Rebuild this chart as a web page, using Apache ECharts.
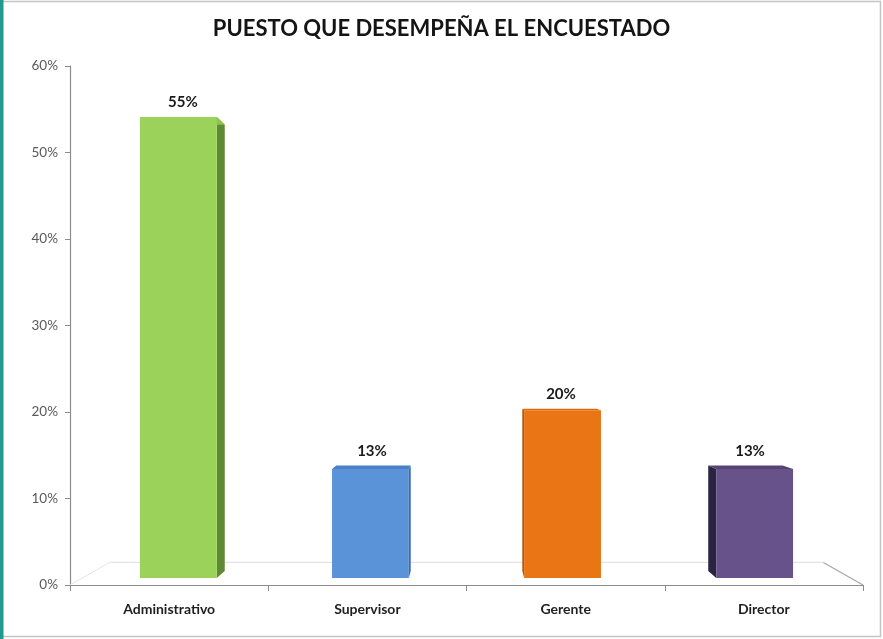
<!DOCTYPE html>
<html>
<head>
<meta charset="utf-8">
<script src="https://cdn.jsdelivr.net/npm/echarts@6/dist/echarts.min.js"></script>
<style>
  html, body { margin: 0; padding: 0; background: #fff; }
  #chart { width: 883px; height: 639px; }
</style>
</head>
<body>
<div id="chart"></div>
<script>
// Survey: position held by respondents (percent)
const categories = ['Administrativo', 'Supervisor', 'Gerente', 'Director'];
const values = [55, 13, 20, 13];
const yTicks = { min: 0, max: 60, step: 10 };

// Face colours per column: front, side, top
const frontColors = ['#9bd35a', '#5b93d9', '#ea7514', '#67528a'];
const sideColors  = ['#5f8a33', '#3b6bab', '#b8570a', '#2b2340'];
const topColors   = ['#8cc44d', '#4b80c6', '#d9680f', '#564477'];

// Simple perspective used for the 3-D look: points are pulled toward a
// vanishing point inside the plot area.
const FRONT = 0.969;      // scale of the front faces
const BACK = 0.938;       // scale of the back faces
const FLOOR_BACK = 0.9;   // scale of the far edge of the floor

function vanish(cs) {
  return [cs.x + cs.width * 0.5, cs.y + cs.height * 0.565];
}
function project(p, v, s) {
  return [v[0] + (p[0] - v[0]) * s, v[1] + (p[1] - v[1]) * s];
}

const chart = echarts.init(document.getElementById('chart'), null, { renderer: 'canvas' });

function renderFloor(params, api) {
  const cs = params.coordSys;
  const v = vanish(cs);
  const fl = [cs.x, cs.y + cs.height];
  const fr = [cs.x + cs.width, cs.y + cs.height];
  const bl = project(fl, v, FLOOR_BACK);
  const br = project(fr, v, FLOOR_BACK);
  return {
    type: 'group',
    silent: true,
    children: [
      { type: 'polygon', shape: { points: [fl, fr, br, bl] }, style: { fill: '#ffffff' } },
      { type: 'line', shape: { x1: bl[0], y1: bl[1], x2: br[0], y2: br[1] }, style: { stroke: '#e3e3e3', lineWidth: 1.2 } },
      { type: 'line', shape: { x1: bl[0], y1: bl[1], x2: fl[0], y2: fl[1] }, style: { stroke: '#e6e6e6', lineWidth: 1 } },
      { type: 'line', shape: { x1: br[0], y1: br[1], x2: fr[0], y2: fr[1] }, style: { stroke: '#a6a6a6', lineWidth: 1.2 } }
    ]
  };
}

function renderColumn(params, api) {
  const cs = params.coordSys;
  const v = vanish(cs);
  const idx = api.value(0);
  const val = api.value(1);
  const top = api.coord([idx, val]);
  const base = api.coord([idx, 0]);
  const half = api.size([1, 0])[0] * 0.4 / 2;

  const corners = {
    tl: [top[0] - half, top[1]], tr: [top[0] + half, top[1]],
    bl: [base[0] - half, base[1]], br: [base[0] + half, base[1]]
  };
  const f = {}, b = {};
  for (const k in corners) {
    f[k] = project(corners[k], v, FRONT);
    b[k] = project(corners[k], v, BACK);
  }
  const leftOfCenter = top[0] < v[0];
  const side = leftOfCenter
    ? [f.tr, b.tr, b.br, f.br]
    : [f.tl, b.tl, b.bl, f.bl];
  const topFace = [f.tl, f.tr, b.tr, b.tl];
  const front = [f.tl, f.tr, f.br, f.bl];
  const i = params.dataIndex;
  const cx = (f.tl[0] + f.tr[0] + b.tl[0] + b.tr[0]) / 4;
  const topY = Math.min(f.tl[1], b.tl[1]);

  return {
    type: 'group',
    children: [
      { type: 'polygon', shape: { points: side }, style: { fill: sideColors[i] } },
      { type: 'polygon', shape: { points: topFace }, style: { fill: topColors[i] } },
      { type: 'polygon', shape: { points: front }, style: { fill: frontColors[i] } },
      {
        type: 'text',
        style: {
          x: cx, y: topY - 7,
          text: val + '%',
          fill: '#1a1a1a',
          font: 'bold 15px Lato, "Open Sans", sans-serif',
          align: 'center', verticalAlign: 'bottom'
        }
      }
    ]
  };
}

chart.setOption({
  animation: false,
  backgroundColor: '#ffffff',
  title: {
    text: 'PUESTO QUE DESEMPEÑA EL ENCUESTADO',
    left: 'center',
    top: 13,
    textStyle: {
      fontFamily: 'Lato, "Open Sans", sans-serif',
      fontWeight: 'bold',
      fontSize: 22,
      color: '#141414'
    }
  },
  grid: { left: 70, right: 20, top: 66, bottom: 54, containLabel: false },
  xAxis: {
    type: 'category',
    data: categories,
    boundaryGap: true,
    axisLine: { lineStyle: { color: '#8c8c8c', width: 1.2 } },
    axisTick: { show: true, length: 6, alignWithLabel: false, lineStyle: { color: '#8c8c8c' } },
    axisLabel: {
      margin: 17,
      color: '#1f1f1f',
      fontFamily: 'Lato, "Open Sans", sans-serif',
      fontWeight: 'bold',
      fontSize: 14
    },
    splitLine: { show: false },
    z: 5
  },
  yAxis: {
    type: 'value',
    min: yTicks.min,
    max: yTicks.max,
    interval: yTicks.step,
    axisLine: { show: true, lineStyle: { color: '#8c8c8c', width: 1.2 } },
    axisTick: { show: true, length: 5, lineStyle: { color: '#8c8c8c' } },
    axisLabel: {
      margin: 12,
      color: '#595959',
      fontFamily: 'Lato, "Open Sans", sans-serif',
      fontSize: 13.5,
      formatter: '{value}%'
    },
    splitLine: { show: false }
  },
  series: [
    {
      type: 'custom',
      renderItem: renderFloor,
      data: [[0, 0]],
      silent: true,
      z: 1
    },
    {
      type: 'custom',
      renderItem: renderColumn,
      data: values.map((v, i) => [i, v]),
      encode: { x: 0, y: 1 },
      z: 3
    }
  ],
  graphic: [
    { type: 'rect', shape: { x: 1.5, y: 1.5, width: 879, height: 635 }, style: { fill: 'none', stroke: '#c4c4c4', lineWidth: 1.5 }, silent: true },
    { type: 'rect', shape: { x: 0, y: 0, width: 3.5, height: 639 }, style: { fill: '#1e9a8e' }, silent: true }
  ]
});
</script>
</body>
</html>
